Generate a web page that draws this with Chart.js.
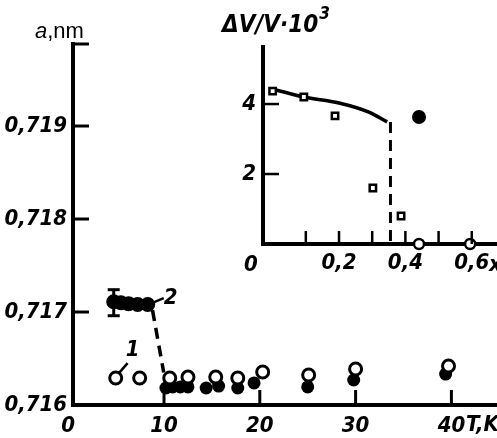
<!DOCTYPE html>
<html>
<head>
<meta charset="utf-8">
<script src="https://cdn.jsdelivr.net/npm/chart.js@4.4.1/dist/chart.umd.min.js"></script>
<style>
  html, body { margin: 0; padding: 0; background: #fff; }
  #wrap { position: relative; width: 497px; height: 438px; overflow: hidden; }
  #main { position: absolute; left: 0; top: 0; }
  #inset { position: absolute; left: 200px; top: 0; }
</style>
</head>
<body>
<div id="wrap">
  <canvas id="main" width="497" height="438"></canvas>
  <canvas id="inset" width="297" height="290"></canvas>
</div>
<script>
// main plot: lattice parameter a (nm) against T (K)
const highT = [4.75, 5.5, 6.3, 7.25, 8.3];
const highA = [0.71711, 0.7171, 0.71709, 0.71708, 0.71708];
const errT = [4.75, 4.75];
const errA = [0.71724, 0.71696];
const dropT = [8.8, 9.97];
const dropA = [0.71702, 0.71635];
const lowT = [10.2, 10.9, 11.7, 12.5, 14.4, 15.7, 17.7, 19.4, 25.0, 29.8, 39.4];
const lowA = [0.716183, 0.716194, 0.716194, 0.716194, 0.716183, 0.716204, 0.716183, 0.716237, 0.716194, 0.716269, 0.716333];
const openT = [4.96, 7.46, 10.6, 12.5, 15.4, 17.7, 20.3, 25.1, 30.0, 39.7];
const openA = [0.71629, 0.71629, 0.71629, 0.7163, 0.7163, 0.71629, 0.716355, 0.716323, 0.716387, 0.716419];
const lead1T = [5.27, 6.2];
const lead1A = [0.71634, 0.71645];
const lead2T = [8.6, 9.97];
const lead2A = [0.71709, 0.71715];
const curveNames = ["1", "2"];
const curveNameT = [6.73, 10.7];
const curveNameA = [0.71659, 0.71715];
const xTicks = [0, 10, 20, 30, 40];
const yTicks = [0.716, 0.717, 0.718, 0.719];

// inset: dV/V * 10^3 against x
const lineX = [0, 0.094, 0.2, 0.29, 0.345];
const lineY = [4.43, 4.2, 4.03, 3.77, 3.49];
const cutX = [0.355, 0.355];
const cutY = [3.49, 0];
const sqX = [0, 0.094, 0.188, 0.302, 0.387, 0.498];
const sqY = [4.37, 4.2, 3.66, 1.6, 0.8, -0.49];
const ocX = [0.441, 0.595];
const ocY = [0, 0];
const fcX = [0.441];
const fcY = [3.63];
const insetXTicks = [0.2, 0.4, 0.6];
const insetXMinor = [0.1, 0.2, 0.3, 0.4, 0.5, 0.6];
const insetYTicks = [2, 4];

function pts(xs, ys) {
  return xs.map((x, i) => ({ x, y: ys[i] }));
}

const narrow = "'Liberation Sans Narrow', 'DejaVu Sans Condensed', 'Liberation Sans', sans-serif";
const tickFont = { family: narrow, size: 22, weight: "bold", style: "italic", lineHeight: 1 };
const comma = (v, d) => Number(v).toFixed(d).replace(".", ",");

// drop the extra room chart.js keeps for edge labels
const noPad = (s) => { s.paddingLeft = 0; s.paddingRight = 0; s.paddingTop = 0; s.paddingBottom = 0; };

// short tick marks pointing into the plot
const inTicks = {
  id: "inTicks",
  afterDraw(chart, args, o) {
    const { ctx, scales, chartArea } = chart;
    ctx.save();
    ctx.strokeStyle = "#000";
    ctx.lineCap = "butt";
    ctx.lineWidth = o.width;
    (o.x || []).forEach((v) => {
      const px = scales.x.getPixelForValue(v);
      ctx.beginPath();
      ctx.moveTo(px, chartArea.bottom);
      ctx.lineTo(px, chartArea.bottom - o.xLen);
      ctx.stroke();
    });
    (o.y || []).forEach((v) => {
      const py = scales.y.getPixelForValue(v);
      ctx.beginPath();
      ctx.moveTo(chartArea.left, py);
      ctx.lineTo(chartArea.left + o.yLen, py);
      ctx.stroke();
    });
    ctx.restore();
  },
};

// axis titles and curve numbers
const notes = {
  id: "notes",
  afterDraw(chart) {
    const { ctx, scales } = chart;
    ctx.save();
    ctx.fillStyle = "#000";
    ctx.textBaseline = "alphabetic";
    ctx.textAlign = "left";

    ctx.font = "italic 22px 'Liberation Sans', Arial, sans-serif";
    ctx.fillText("a", 35, 38);
    const wa = ctx.measureText("a").width;
    ctx.font = "22px 'Liberation Sans', Arial, sans-serif";
    ctx.fillText(",nm", 35 + wa, 38);

    ctx.font = "bold italic 24px " + narrow;
    ctx.fillText("\u0394V/V\u00b710", 222, 32);
    const wt = ctx.measureText("\u0394V/V\u00b710").width;
    ctx.font = "bold italic 17px " + narrow;
    ctx.fillText("3", 223 + wt, 19);

    ctx.font = "bold italic 22px " + narrow;
    ctx.textBaseline = "middle";
    ctx.fillText("T,K", 466, 425);
    ctx.fillText("x", 489, 265);
    ctx.textAlign = "center";
    ctx.fillText("0", 251, 265);

    curveNames.forEach((t, i) => {
      ctx.fillText(t, scales.x.getPixelForValue(curveNameT[i]), scales.y.getPixelForValue(curveNameA[i]));
    });
    ctx.restore();
  },
};

const black = "#000";

new Chart(document.getElementById("main"), {
  type: "scatter",
  data: {
    datasets: [
      {
        data: pts(openT, openA),
        order: 0,
        pointRadius: 6,
        borderWidth: 3,
        borderColor: black,
        backgroundColor: "#fff",
      },
      {
        data: pts(lowT, lowA),
        order: 1,
        pointRadius: 6.5,
        borderWidth: 0,
        backgroundColor: black,
      },
      {
        data: pts(highT, highA),
        order: 1,
        showLine: true,
        pointRadius: 5.5,
        borderWidth: 4,
        borderColor: black,
        backgroundColor: black,
      },
      {
        data: pts(errT, errA),
        order: 2,
        showLine: true,
        pointStyle: "line",
        pointRadius: 6,
        borderWidth: 3,
        borderColor: black,
      },
      {
        data: pts(dropT, dropA),
        order: 2,
        showLine: true,
        pointRadius: 0,
        borderWidth: 3.5,
        borderDash: [11, 7],
        borderColor: black,
      },
      {
        data: pts(lead1T, lead1A),
        order: 2,
        showLine: true,
        pointRadius: 0,
        borderWidth: 2.5,
        borderColor: black,
      },
      {
        data: pts(lead2T, lead2A),
        order: 2,
        showLine: true,
        pointRadius: 0,
        borderWidth: 2.5,
        borderColor: black,
      },
    ],
  },
  options: {
    responsive: false,
    animation: false,
    events: [],
    layout: { autoPadding: false, padding: { top: 44, right: 0, left: 0, bottom: 0 } },
    plugins: {
      legend: { display: false },
      tooltip: { enabled: false },
      inTicks: { x: [10, 20, 30, 40], y: [0.717, 0.718, 0.719, 0.719882], xLen: 15, yLen: 16, width: 3 },
    },
    scales: {
      x: {
        type: "linear",
        min: 0.5,
        max: 44.76,
        grid: { display: false, drawTicks: false },
        border: { color: black, width: 4 },
        ticks: { font: tickFont, color: black, padding: 10, maxRotation: 0, callback: (v) => String(v) },
        afterBuildTicks: (s) => { s.ticks = xTicks.map((v) => ({ value: v })); },
        afterFit: (s) => { s.height = 33; noPad(s); },
      },
      y: {
        type: "linear",
        min: 0.716,
        max: 0.719882,
        grid: { display: false, drawTicks: false },
        border: { color: black, width: 4 },
        ticks: { font: tickFont, color: black, padding: 6, callback: (v) => comma(v, 3) },
        afterBuildTicks: (s) => { s.ticks = yTicks.map((v) => ({ value: v })); },
        afterFit: (s) => { s.width = 73; noPad(s); },
      },
    },
  },
  plugins: [inTicks, notes],
});

new Chart(document.getElementById("inset"), {
  type: "scatter",
  data: {
    datasets: [
      {
        data: pts(sqX, sqY),
        order: 0,
        clip: false,
        pointStyle: "rect",
        pointRadius: 4.5,
        borderWidth: 2.5,
        borderColor: black,
        backgroundColor: "#fff",
      },
      {
        data: pts(ocX, ocY),
        order: 0,
        clip: false,
        pointRadius: 5,
        borderWidth: 2.5,
        borderColor: black,
        backgroundColor: "#fff",
      },
      {
        data: pts(fcX, fcY),
        order: 0,
        clip: false,
        pointRadius: 7,
        borderWidth: 0,
        backgroundColor: black,
      },
      {
        data: pts(lineX, lineY),
        order: 1,
        showLine: true,
        cubicInterpolationMode: "monotone",
        pointRadius: 0,
        borderWidth: 3.5,
        borderColor: black,
      },
      {
        data: pts(cutX, cutY),
        order: 1,
        showLine: true,
        pointRadius: 0,
        borderWidth: 3,
        borderDash: [11, 7],
        borderColor: black,
      },
    ],
  },
  options: {
    responsive: false,
    animation: false,
    events: [],
    layout: { autoPadding: false, padding: { top: 47, right: 0, left: 0, bottom: 0 } },
    plugins: {
      legend: { display: false },
      tooltip: { enabled: false },
      inTicks: { x: insetXMinor, y: insetYTicks, xLen: 13, yLen: 16, width: 2.5 },
    },
    scales: {
      x: {
        type: "linear",
        min: -0.029,
        max: 0.676,
        grid: { display: false, drawTicks: false },
        border: { color: black, width: 4 },
        ticks: { font: tickFont, color: black, padding: 8, maxRotation: 0, callback: (v) => comma(v, 1) },
        afterBuildTicks: (s) => { s.ticks = insetXTicks.map((v) => ({ value: v })); },
        afterFit: (s) => { s.height = 46; noPad(s); },
      },
      y: {
        type: "linear",
        min: 0,
        max: 5.63,
        grid: { display: false, drawTicks: false },
        border: { color: black, width: 4 },
        ticks: { font: tickFont, color: black, padding: 7, callback: (v) => String(v) },
        afterBuildTicks: (s) => { s.ticks = insetYTicks.map((v) => ({ value: v })); },
        afterFit: (s) => { s.width = 63; noPad(s); },
      },
    },
  },
  plugins: [inTicks],
});
</script>
</body>
</html>
